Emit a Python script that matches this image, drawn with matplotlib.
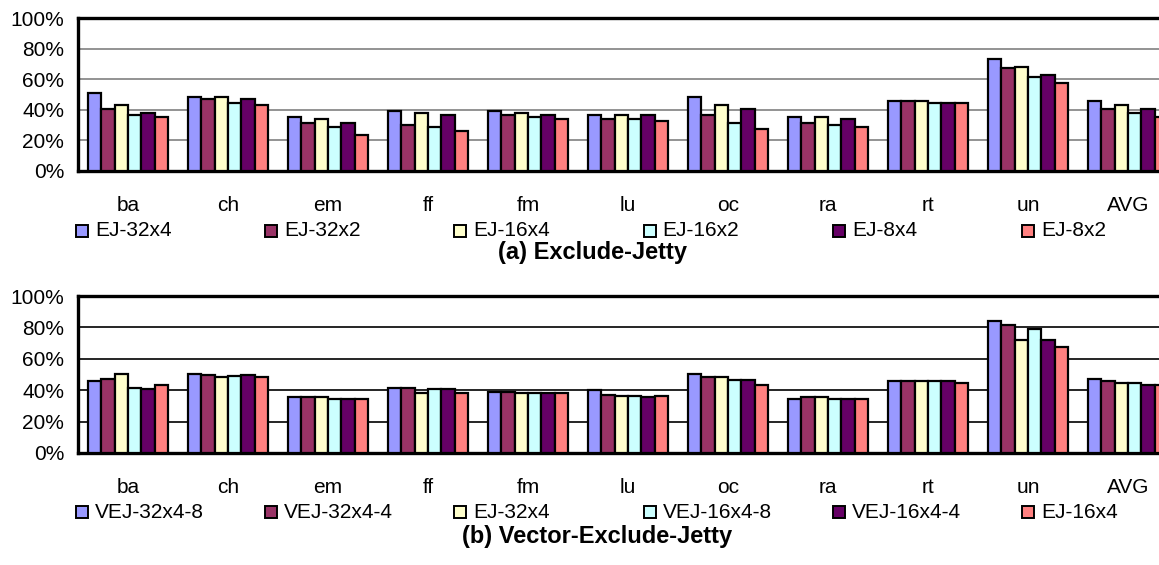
import matplotlib
matplotlib.use("Agg")
import matplotlib.pyplot as plt
from matplotlib.patches import Rectangle
import numpy as np

plt.rcParams["font.family"] = ["Liberation Sans", "DejaVu Sans"]

categories = ["ba", "ch", "em", "ff", "fm", "lu", "oc", "ra", "rt", "un", "AVG"]

# (a) Exclude-Jetty, percent
ej_labels = ["EJ-32x4", "EJ-32x2", "EJ-16x4", "EJ-16x2", "EJ-8x4", "EJ-8x2"]
ej_32x4 = [50.8, 48.4, 35.2, 39.2, 39.2, 36.5, 48.4, 35.2, 45.7, 73.1, 45.7]
ej_32x2 = [40.5, 47.0, 31.1, 29.8, 36.3, 34.1, 36.3, 31.1, 45.7, 67.0, 40.5]
ej_16x4 = [43.3, 48.4, 34.1, 37.9, 37.6, 36.5, 43.1, 35.2, 45.7, 68.1, 43.1]
ej_16x2 = [36.5, 44.4, 28.7, 28.7, 35.2, 34.1, 31.1, 30.0, 44.4, 61.3, 37.9]
ej_8x4 = [37.9, 47.0, 31.1, 36.5, 36.5, 36.5, 40.5, 34.1, 44.4, 62.6, 40.5]
ej_8x2 = [35.4, 43.3, 23.6, 26.0, 34.1, 32.6, 27.4, 28.7, 44.4, 57.8, 35.2]

# (b) Vector-Exclude-Jetty, percent
vej_labels = ["VEJ-32x4-8", "VEJ-32x4-4", "EJ-32x4", "VEJ-16x4-8", "VEJ-16x4-4", "EJ-16x4"]
vej_32x4_8 = [45.7, 50.4, 35.5, 41.7, 39.1, 40.4, 50.4, 34.3, 45.7, 84.0, 47.0]
vej_32x4_4 = [47.0, 49.4, 35.5, 41.7, 39.1, 36.8, 48.1, 35.5, 45.7, 81.5, 45.7]
vej_ej_32x4 = [50.4, 48.1, 35.5, 37.9, 37.9, 36.6, 48.1, 35.5, 45.7, 72.1, 44.5]
vej_16x4_8 = [41.7, 49.1, 34.5, 40.6, 37.9, 36.6, 46.8, 34.3, 45.7, 78.9, 44.5]
vej_16x4_4 = [40.6, 49.4, 34.5, 40.6, 37.9, 35.5, 46.8, 34.3, 45.7, 72.1, 43.2]
vej_ej_16x4 = [43.2, 48.1, 34.5, 37.9, 37.9, 36.6, 43.2, 34.3, 44.5, 67.4, 43.2]

colors = ["#9999FF", "#993366", "#FFFFCC", "#CCFFFF", "#660066", "#FF8080"]

W, H = 1159, 565


def px_x(x):
    return x / W


def px_y(y):
    return 1 - y / H


def draw_panel(fig, top, bottom, series, grid_color):
    ax = fig.add_axes([px_x(78), px_y(bottom), 1100 / W, (bottom - top) / H])
    x = np.arange(len(categories))
    n = len(series)
    width = 0.8 / n
    for i, vals in enumerate(series):
        ax.bar(x - 0.4 + width * (i + 0.5), vals, width=width, color=colors[i],
               edgecolor="black", linewidth=1.6, zorder=3)
    ax.set_xlim(-0.5, len(categories) - 0.5)
    ax.set_ylim(0, 100)
    ax.set_yticks(range(0, 101, 20))
    ax.set_yticklabels([f"{v}%" for v in range(0, 101, 20)], fontsize=15)
    ax.set_xticks(x)
    ax.set_xticklabels(categories, fontsize=15)
    ax.tick_params(axis="both", length=0)
    ax.tick_params(axis="y", pad=10)
    ax.tick_params(axis="x", pad=18)
    ax.yaxis.grid(True, color=grid_color, linewidth=1.2, zorder=0)
    ax.set_axisbelow(True)
    for side in ["top", "bottom", "left"]:
        ax.spines[side].set_linewidth(2.4)
        ax.spines[side].set_color("black")
    ax.spines["right"].set_visible(False)
    return ax


def draw_legend(fig, labels, y_center):
    for i, lab in enumerate(labels):
        x0 = 76 + i * 189.2
        fig.patches.append(Rectangle((px_x(x0), px_y(y_center + 6)), 12 / W, 12 / H,
                                     transform=fig.transFigure, facecolor=colors[i],
                                     edgecolor="black", linewidth=1.4))
        fig.text(px_x(x0 + 19), px_y(y_center), lab, fontsize=15,
                 ha="left", va="center")


fig = plt.figure(figsize=(W / 100, H / 100), dpi=100)

draw_panel(fig, 18, 171, [ej_32x4, ej_32x2, ej_16x4, ej_16x2, ej_8x4, ej_8x2], "#808080")
draw_legend(fig, ej_labels, 231)
fig.text(px_x(593), px_y(253), "(a) Exclude-Jetty", fontsize=17, fontweight="bold",
         ha="center", va="center")

draw_panel(fig, 296, 453, [vej_32x4_8, vej_32x4_4, vej_ej_32x4, vej_16x4_8, vej_16x4_4,
                           vej_ej_16x4], "black")
draw_legend(fig, vej_labels, 512)
fig.text(px_x(597), px_y(537), "(b) Vector-Exclude-Jetty", fontsize=17, fontweight="bold",
         ha="center", va="center")

fig.savefig("out.png", dpi=100)
